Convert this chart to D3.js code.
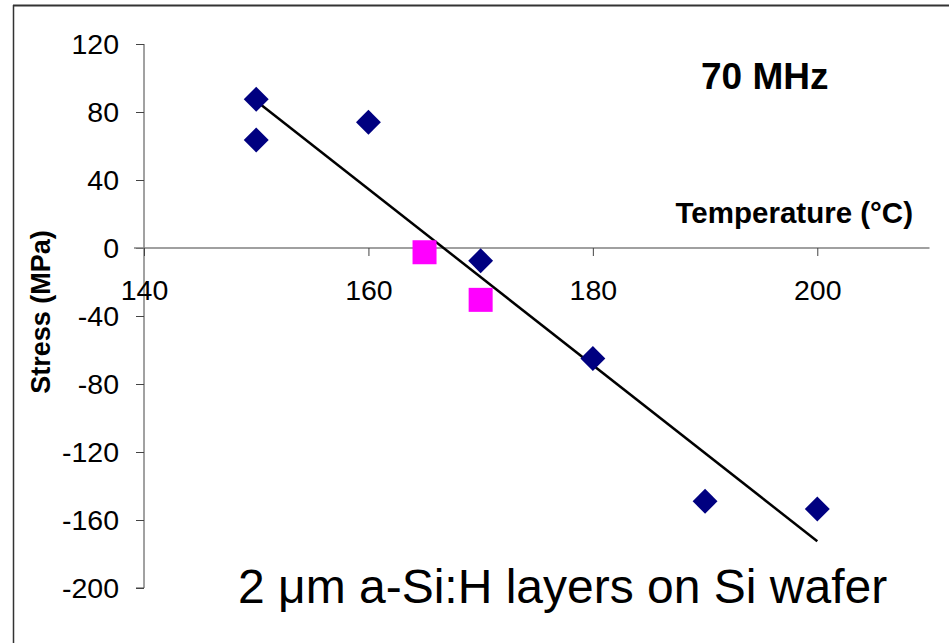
<!DOCTYPE html>
<html>
<head>
<meta charset="utf-8">
<script src="https://cdn.jsdelivr.net/npm/d3@7"></script>
<style>
  html, body { margin: 0; padding: 0; background: #fff; }
  svg { display: block; font-family: "Liberation Sans", Arial, sans-serif; }
</style>
</head>
<body>
<svg id="chart" width="949" height="643"></svg>
<script>
// Film stress vs. deposition temperature, 70 MHz a-Si:H
const tempSeriesA = [150, 150, 160, 170, 180, 190, 200];
const stressSeriesA = [87.5, 63.5, 74, -7.5, -65, -149, -153.5];
const tempSeriesB = [165, 170];
const stressSeriesB = [-2.5, -30.5];
const trendTemp = [150, 200];
const trendStress = [86.5, -172.5];
const xTicks = [140, 160, 180, 200];
const yTicks = [120, 80, 40, 0, -40, -80, -120, -160, -200];

const FONT = "Liberation Sans, Arial, sans-serif";
const svg = d3.select("#chart");

// outer frame (only top and left edges fall inside the view)
svg.append("line").attr("x1", 13).attr("x2", 949).attr("y1", 5.5).attr("y2", 5.5)
  .attr("stroke", "#333").attr("stroke-width", 2);
svg.append("line").attr("x1", 13.5).attr("x2", 13.5).attr("y1", 5).attr("y2", 643)
  .attr("stroke", "#333").attr("stroke-width", 1.5);

const x = d3.scaleLinear().domain([140, 210]).range([144, 929.5]);
const y = d3.scaleLinear().domain([-200, 120]).range([588, 44]);

// plain hyphen-minus labels
const fmt = d => String(d);

// y axis
const yAxis = svg.append("g").attr("transform", `translate(${x(140)},0)`)
  .call(d3.axisLeft(y).tickValues(yTicks).tickSize(8).tickPadding(17).tickFormat(fmt));
yAxis.select(".domain").attr("stroke", "#444").attr("d", `M0,${y(120)}H0V${y(-200)}H-8`);
yAxis.selectAll(".tick line").attr("stroke", "#444");
yAxis.selectAll(".tick text").attr("font-size", 28.5).attr("fill", "#000").attr("font-family", FONT);

// x axis through zero
const xAxis = svg.append("g").attr("transform", `translate(0,${y(0)})`)
  .call(d3.axisBottom(x).tickValues(xTicks).tickSize(8).tickPadding(24).tickFormat(fmt));
xAxis.select(".domain").attr("stroke", "#808080").attr("stroke-width", 1.5)
  .attr("d", `M${x(140) - 10},0H${x(210)}`);
xAxis.selectAll(".tick line").attr("stroke", "#444");
xAxis.selectAll(".tick text").attr("font-size", 28.5).attr("fill", "#000").attr("font-family", FONT);

// trend line
svg.append("line")
  .attr("x1", x(trendTemp[0])).attr("y1", y(trendStress[0]))
  .attr("x2", x(trendTemp[1])).attr("y2", y(trendStress[1]))
  .attr("stroke", "#000").attr("stroke-width", 2.5);

// series A: navy diamonds
const diamond = d3.symbol().type(d3.symbolSquare).size(310);
svg.append("g").selectAll("path")
  .data(tempSeriesA.map((t, i) => [t, stressSeriesA[i]]))
  .join("path")
  .attr("d", diamond)
  .attr("transform", d => `translate(${x(d[0])},${y(d[1])}) rotate(45)`)
  .attr("fill", "#000080");

// series B: magenta squares
svg.append("g").selectAll("rect")
  .data(tempSeriesB.map((t, i) => [t, stressSeriesB[i]]))
  .join("rect")
  .attr("x", d => x(d[0]) - 12).attr("y", d => y(d[1]) - 12)
  .attr("width", 24).attr("height", 24)
  .attr("fill", "#ff00ff");

// labels
svg.append("text").attr("x", 913).attr("y", 223).attr("text-anchor", "end")
  .attr("font-size", 29.5).attr("font-weight", "bold").text("Temperature (°C)");
svg.append("text").attr("transform", "translate(50,312) rotate(-90)").attr("text-anchor", "middle")
  .attr("font-size", 27).attr("font-weight", "bold").text("Stress (MPa)");
svg.append("text").attr("x", 701).attr("y", 89)
  .attr("font-size", 37).attr("font-weight", "bold").text("70 MHz");
svg.append("text").attr("x", 238).attr("y", 603)
  .attr("font-size", 48).text("2 μm a-Si:H layers on Si wafer");
</script>
</body>
</html>
